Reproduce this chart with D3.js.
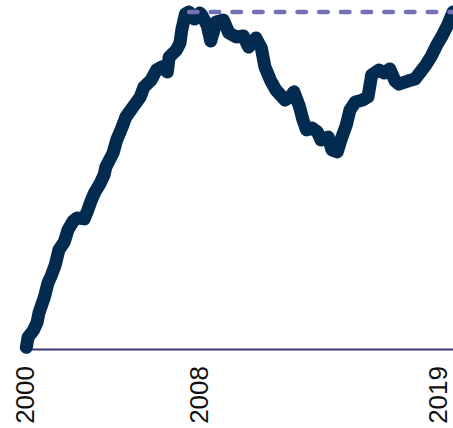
<!DOCTYPE html>
<html>
<head>
<meta charset="utf-8">
<script src="https://cdn.jsdelivr.net/npm/d3@7"></script>
<style>
  body { margin: 0; background: #fff; }
  svg { display: block; }
</style>
</head>
<body>
<figure id="chart" style="margin:0"></figure>
<script>
// index level relative to the 2007 peak (peak = 100)
const months = [
  "2000-02","2000-03","2000-04","2000-06","2000-08","2000-09","2000-12",
  "2001-02","2001-04","2001-06","2001-08","2001-11",
  "2002-01","2002-04","2002-06","2002-10","2002-12",
  "2003-02","2003-04","2003-07","2003-09","2003-10",
  "2004-02","2004-04","2004-07","2004-09",
  "2005-01","2005-05","2005-07","2005-11",
  "2006-02","2006-05","2006-08","2006-09",
  "2007-01","2007-03","2007-04","2007-06","2007-08","2007-11",
  "2008-02","2008-03","2008-06","2008-08","2008-11",
  "2009-03","2009-06","2009-10",
  "2010-02","2010-05","2010-09","2010-12",
  "2011-02","2011-05","2011-08",
  "2012-01","2012-04","2012-06","2012-09","2012-11",
  "2013-01","2013-04","2013-07","2013-09",
  "2014-01","2014-03","2014-06","2014-08","2014-11",
  "2015-01","2015-04","2015-08","2015-11",
  "2016-01","2016-05","2016-08","2016-11",
  "2017-02","2017-04","2017-09",
  "2018-01","2018-04","2018-07","2018-10",
  "2019-01","2019-04","2019-07","2019-10"
];
const values = [
  0.5, 3.5, 4.2, 5.6, 8.0, 10.7, 15.4,
  19.6, 22.0, 24.9, 29.4, 31.8,
  35.3, 38.0, 38.9, 38.6, 41.2,
  44.2, 46.6, 49.3, 51.6, 54.0,
  58.2, 62.0, 65.9, 68.8,
  71.8, 74.8, 77.7, 79.8,
  82.8, 83.7, 82.2, 86.6,
  88.7, 90.8, 94.7, 99.4, 100, 97.9,
  99.7, 99.1, 96.1, 91.4, 97.0,
  97.6, 93.8, 92.6,
  92.9, 89.6, 92.3, 89.3,
  83.7, 79.8, 76.9,
  73.9, 74.8, 76.3, 72.1, 68.0,
  65.0, 65.6, 64.4, 62.0,
  62.9, 59.1, 58.5, 62.0, 66.5,
  70.9, 73.3, 73.9, 74.8,
  81.3, 82.8, 81.9, 83.1,
  79.5, 78.6, 79.5,
  80.1, 82.2, 84.3, 86.9,
  90.2, 92.9, 96.1, 100
];
const tickYears = [2000, 2008, 2019];
const peakMonth = "2007-08";
const peakValue = 100;

const width = 453, height = 428;

function toYear(s) {
  const [y, m] = s.split("-").map(Number);
  return y + (m - 1) / 12;
}

const data = months.map((m, i) => ({ t: toYear(m), v: values[i] }));

const svg = d3.select("#chart")
  .append("svg")
  .attr("width", width)
  .attr("height", height);

const x = d3.scaleLinear()
  .domain([2000, 2019.75])
  .range([24.5, 453]);

const y = d3.scaleLinear()
  .domain([0, 100])
  .range([349, 12]);

// baseline + year labels
const axis = svg.append("g")
  .attr("transform", "translate(0," + y(0) + ")")
  .call(d3.axisBottom(x).tickValues(tickYears).tickSize(0).tickFormat(d3.format("d")));

axis.select(".domain")
  .attr("stroke", "#3d3875")
  .attr("stroke-width", 2);

axis.selectAll("text")
  .attr("transform", "translate(0,17)rotate(-90)")
  .attr("x", 0)
  .attr("y", 0)
  .attr("dy", "0.36em")
  .style("text-anchor", "end")
  .style("font-family", "'Liberation Sans', Arial, sans-serif")
  .style("font-size", "26px")
  .attr("fill", "#111");

// main series
const line = d3.line()
  .x(d => x(d.t))
  .y(d => y(d.v));

svg.append("path")
  .datum(data)
  .attr("fill", "none")
  .attr("stroke", "#022b4f")
  .attr("stroke-width", 13)
  .attr("stroke-linejoin", "round")
  .attr("stroke-linecap", "round")
  .attr("d", line);

// previous peak reference
svg.append("line")
  .attr("x1", x(toYear(peakMonth)))
  .attr("x2", x.range()[1])
  .attr("y1", y(peakValue))
  .attr("y2", y(peakValue))
  .attr("stroke", "#7370b4")
  .attr("stroke-width", 4.5)
  .attr("stroke-linecap", "round")
  .attr("stroke-dasharray", "8.5,13.2");
</script>
</body>
</html>
